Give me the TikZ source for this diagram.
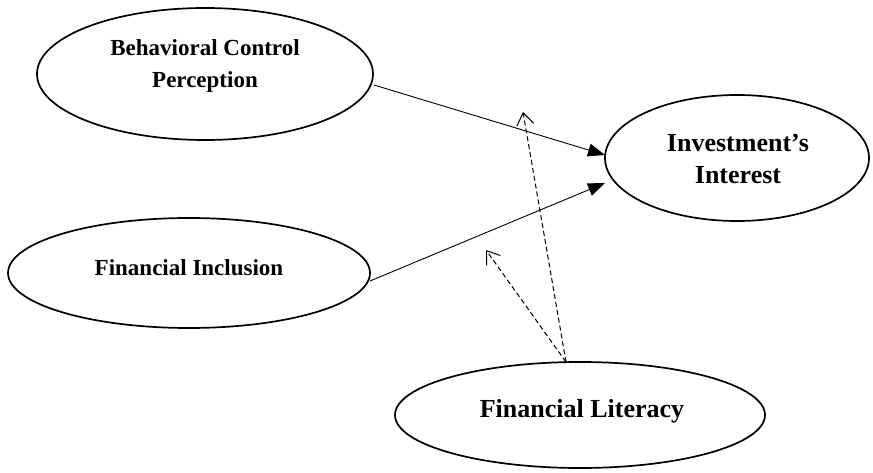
\documentclass[tikz,border=0pt]{standalone}
\usepackage{fontspec}
\setmainfont{Liberation Serif}
\usetikzlibrary{arrows.meta}
\begin{document}
\begin{tikzpicture}[x=1pt,y=-1pt,
  ell/.style={line width=1.7pt},
  lbl/.style={font=\bfseries\fontsize{23}{32}\selectfont,align=center},
  lblbig/.style={font=\bfseries\fontsize{26}{32}\selectfont,align=center},
  solidarrow/.style={-{Triangle[length=17pt,width=13pt]},line width=0.9pt},
  modarrow/.style={-{Straight Barb[length=12pt,width=17pt]},dash pattern=on 5pt off 3pt,line width=1pt}]
\useasboundingbox (0,0) rectangle (873,473);
\draw[ell] (205,74) ellipse [x radius=168, y radius=66];
\node[lbl] (bcp) at (205,66) {Behavioral Control\\Perception};
\draw[ell] (737,158) ellipse [x radius=132, y radius=63];
\node[lblbig] (ii) at (738,159) {Investment’s\\Interest};
\draw[ell] (189,273) ellipse [x radius=181, y radius=55];
\node[lbl] (fi) at (189,268) {Financial Inclusion};
\draw[ell] (580,415) ellipse [x radius=185, y radius=53];
\node[lblbig] (fl) at (582,411) {Financial Literacy};
\coordinate (bcpE) at (374,85);
\coordinate (iiA) at (605,155);
\coordinate (fiE) at (370,281);
\coordinate (iiB) at (605,183);
\coordinate (flT) at (566,362);
\coordinate (m1) at (523,112);
\coordinate (m2) at (486,250);
\draw[solidarrow] (bcpE) -- (iiA);
\draw[solidarrow] (fiE) -- (iiB);
\draw[modarrow] (flT) -- (m1);
\draw[modarrow] (flT) -- (m2);
\end{tikzpicture}
\end{document}
